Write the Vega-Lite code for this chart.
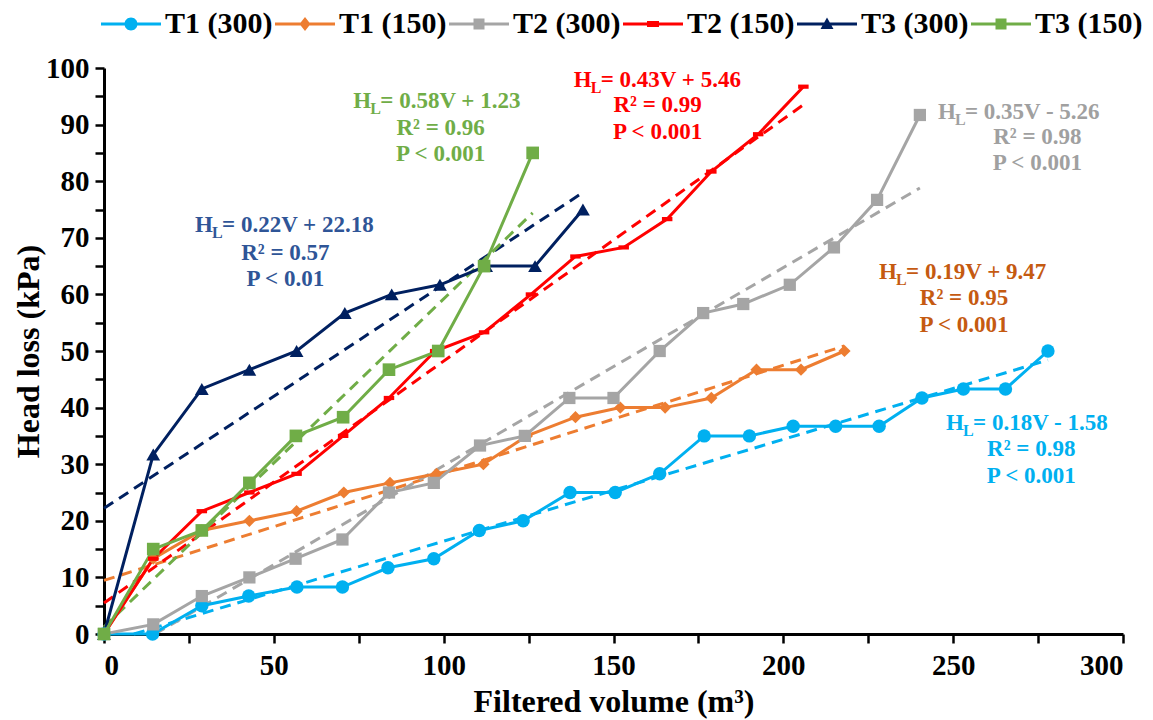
{
  "$schema": "https://vega.github.io/schema/vega-lite/v6.json",
  "width": 1019,
  "height": 566,
  "autosize": {"type": "none"},
  "padding": {"left": 104, "top": 68, "right": 30, "bottom": 86},
  "background": "white",
  "config": {
    "view": {"stroke": null},
    "font": "Liberation Serif",
    "axis": {
      "grid": false,
      "domainColor": "black",
      "domainWidth": 3,
      "tickColor": "black",
      "tickWidth": 2.5,
      "tickSize": 9,
      "labelFont": "Liberation Serif",
      "labelFontWeight": "bold",
      "labelFontSize": 29,
      "labelColor": "black",
      "titleFont": "Liberation Serif",
      "titleFontWeight": "bold",
      "titleFontSize": 32,
      "titleColor": "black"
    }
  },
  "datasets": {
    "obs": [
      {"series": "T1 (300)", "x": 0, "y": 0}, {"series": "T1 (300)", "x": 14.3, "y": 0}, {"series": "T1 (300)", "x": 28.8, "y": 5}, {"series": "T1 (300)", "x": 42.6, "y": 6.7}, {"series": "T1 (300)", "x": 56.8, "y": 8.3}, {"series": "T1 (300)", "x": 70.2, "y": 8.3}, {"series": "T1 (300)", "x": 83.6, "y": 11.7}, {"series": "T1 (300)", "x": 97.1, "y": 13.3}, {"series": "T1 (300)", "x": 110.5, "y": 18.3}, {"series": "T1 (300)", "x": 123.4, "y": 20}, {"series": "T1 (300)", "x": 137.2, "y": 25}, {"series": "T1 (300)", "x": 150.5, "y": 25}, {"series": "T1 (300)", "x": 163.6, "y": 28.3}, {"series": "T1 (300)", "x": 176.7, "y": 35}, {"series": "T1 (300)", "x": 190, "y": 35}, {"series": "T1 (300)", "x": 202.9, "y": 36.7}, {"series": "T1 (300)", "x": 215.4, "y": 36.7}, {"series": "T1 (300)", "x": 228.2, "y": 36.7}, {"series": "T1 (300)", "x": 240.8, "y": 41.7}, {"series": "T1 (300)", "x": 253, "y": 43.3}, {"series": "T1 (300)", "x": 265.4, "y": 43.3}, {"series": "T1 (300)", "x": 277.9, "y": 50},
      {"series": "T1 (150)", "x": 0, "y": 0}, {"series": "T1 (150)", "x": 14.5, "y": 13.3}, {"series": "T1 (150)", "x": 28.8, "y": 18.3}, {"series": "T1 (150)", "x": 42.8, "y": 20}, {"series": "T1 (150)", "x": 56.7, "y": 21.7}, {"series": "T1 (150)", "x": 70.6, "y": 25}, {"series": "T1 (150)", "x": 84.2, "y": 26.7}, {"series": "T1 (150)", "x": 97.9, "y": 28.3}, {"series": "T1 (150)", "x": 111.7, "y": 30}, {"series": "T1 (150)", "x": 124.5, "y": 35}, {"series": "T1 (150)", "x": 138.8, "y": 38.3}, {"series": "T1 (150)", "x": 152, "y": 40}, {"series": "T1 (150)", "x": 165.2, "y": 40}, {"series": "T1 (150)", "x": 178.8, "y": 41.7}, {"series": "T1 (150)", "x": 192.1, "y": 46.7}, {"series": "T1 (150)", "x": 205.2, "y": 46.7}, {"series": "T1 (150)", "x": 218, "y": 50},
      {"series": "T2 (300)", "x": 0, "y": 0}, {"series": "T2 (300)", "x": 14.5, "y": 1.7}, {"series": "T2 (300)", "x": 28.8, "y": 6.7}, {"series": "T2 (300)", "x": 42.8, "y": 10}, {"series": "T2 (300)", "x": 56.4, "y": 13.3}, {"series": "T2 (300)", "x": 70.2, "y": 16.7}, {"series": "T2 (300)", "x": 83.9, "y": 25}, {"series": "T2 (300)", "x": 97.1, "y": 26.7}, {"series": "T2 (300)", "x": 110.7, "y": 33.3}, {"series": "T2 (300)", "x": 123.9, "y": 35}, {"series": "T2 (300)", "x": 137, "y": 41.7}, {"series": "T2 (300)", "x": 150, "y": 41.7}, {"series": "T2 (300)", "x": 163.6, "y": 50}, {"series": "T2 (300)", "x": 176.4, "y": 56.7}, {"series": "T2 (300)", "x": 188.2, "y": 58.3}, {"series": "T2 (300)", "x": 201.9, "y": 61.7}, {"series": "T2 (300)", "x": 214.9, "y": 68.3}, {"series": "T2 (300)", "x": 227.6, "y": 76.7}, {"series": "T2 (300)", "x": 240.2, "y": 91.7},
      {"series": "T2 (150)", "x": 0, "y": 0}, {"series": "T2 (150)", "x": 14.5, "y": 13.3}, {"series": "T2 (150)", "x": 28.8, "y": 21.7}, {"series": "T2 (150)", "x": 42.8, "y": 25}, {"series": "T2 (150)", "x": 56.7, "y": 28.3}, {"series": "T2 (150)", "x": 70.4, "y": 35}, {"series": "T2 (150)", "x": 83.9, "y": 41.7}, {"series": "T2 (150)", "x": 97.5, "y": 50}, {"series": "T2 (150)", "x": 111.9, "y": 53.3}, {"series": "T2 (150)", "x": 125.7, "y": 60}, {"series": "T2 (150)", "x": 138.8, "y": 66.7}, {"series": "T2 (150)", "x": 153, "y": 68.3}, {"series": "T2 (150)", "x": 165.8, "y": 73.3}, {"series": "T2 (150)", "x": 178.8, "y": 81.7}, {"series": "T2 (150)", "x": 192.6, "y": 88.3}, {"series": "T2 (150)", "x": 205.9, "y": 96.7},
      {"series": "T3 (300)", "x": 0, "y": 0}, {"series": "T3 (300)", "x": 14.5, "y": 31.7}, {"series": "T3 (300)", "x": 28.8, "y": 43.3}, {"series": "T3 (300)", "x": 42.8, "y": 46.7}, {"series": "T3 (300)", "x": 56.7, "y": 50}, {"series": "T3 (300)", "x": 70.9, "y": 56.7}, {"series": "T3 (300)", "x": 84.7, "y": 60}, {"series": "T3 (300)", "x": 98.9, "y": 61.7}, {"series": "T3 (300)", "x": 112.5, "y": 65}, {"series": "T3 (300)", "x": 126.9, "y": 65}, {"series": "T3 (300)", "x": 141, "y": 75},
      {"series": "T3 (150)", "x": 0, "y": 0}, {"series": "T3 (150)", "x": 14.5, "y": 15}, {"series": "T3 (150)", "x": 28.8, "y": 18.3}, {"series": "T3 (150)", "x": 42.8, "y": 26.7}, {"series": "T3 (150)", "x": 56.5, "y": 35}, {"series": "T3 (150)", "x": 70.4, "y": 38.3}, {"series": "T3 (150)", "x": 83.9, "y": 46.7}, {"series": "T3 (150)", "x": 98.4, "y": 50}, {"series": "T3 (150)", "x": 111.9, "y": 65}, {"series": "T3 (150)", "x": 126.2, "y": 85}
    ],
    "trend": [
      {"series": "T1 (300)", "x": 8.8, "y": 0}, {"series": "T1 (300)", "x": 277.9, "y": 48.4},
      {"series": "T1 (150)", "x": 0, "y": 9.47}, {"series": "T1 (150)", "x": 218, "y": 50.9},
      {"series": "T2 (300)", "x": 15, "y": 0}, {"series": "T2 (300)", "x": 240.2, "y": 78.8},
      {"series": "T2 (150)", "x": 0, "y": 5.46}, {"series": "T2 (150)", "x": 205.9, "y": 93.5},
      {"series": "T3 (300)", "x": 0, "y": 22.2}, {"series": "T3 (300)", "x": 141, "y": 78},
      {"series": "T3 (150)", "x": 0, "y": 1.23}, {"series": "T3 (150)", "x": 126.2, "y": 74.4}
    ],
    "notes": [
      {"series": "T3 (150)", "part": "h", "text": "H", "x": 73.4, "y": 94.2},
      {"series": "T3 (150)", "part": "l", "text": "L", "x": 73.4, "y": 94.2},
      {"series": "T3 (150)", "part": "eq", "text": " = 0.58V + 1.23", "x": 73.4, "y": 94.2},
      {"series": "T3 (150)", "part": "c", "text": "R² = 0.96", "x": 99.1, "y": 89.4},
      {"series": "T3 (150)", "part": "c", "text": "P < 0.001", "x": 99.1, "y": 84.8},
      {"series": "T2 (150)", "part": "h", "text": "H", "x": 138.3, "y": 97.9},
      {"series": "T2 (150)", "part": "l", "text": "L", "x": 138.3, "y": 97.9},
      {"series": "T2 (150)", "part": "eq", "text": "= 0.43V + 5.46", "x": 138.3, "y": 97.9},
      {"series": "T2 (150)", "part": "c", "text": "R² = 0.99", "x": 163.0, "y": 93.5},
      {"series": "T2 (150)", "part": "c", "text": "P < 0.001", "x": 163.0, "y": 88.7},
      {"series": "T2 (300)", "part": "h", "text": "H", "x": 245.5, "y": 92.3},
      {"series": "T2 (300)", "part": "l", "text": "L", "x": 245.5, "y": 92.3},
      {"series": "T2 (300)", "part": "eq", "text": " = 0.35V - 5.26", "x": 245.5, "y": 92.3},
      {"series": "T2 (300)", "part": "c", "text": "R² = 0.98", "x": 274.8, "y": 87.8},
      {"series": "T2 (300)", "part": "c", "text": "P < 0.001", "x": 274.8, "y": 83.2},
      {"series": "T3 (300)", "part": "h", "text": "H", "x": 26.8, "y": 72.3},
      {"series": "T3 (300)", "part": "l", "text": "L", "x": 26.8, "y": 72.3},
      {"series": "T3 (300)", "part": "eq", "text": "= 0.22V + 22.18", "x": 26.8, "y": 72.3},
      {"series": "T3 (300)", "part": "c", "text": "R² = 0.57", "x": 53.4, "y": 67.4},
      {"series": "T3 (300)", "part": "c", "text": "P < 0.01", "x": 53.4, "y": 62.8},
      {"series": "T1 (150)", "part": "h", "text": "H", "x": 228.2, "y": 64.0},
      {"series": "T1 (150)", "part": "l", "text": "L", "x": 228.2, "y": 64.0},
      {"series": "T1 (150)", "part": "eq", "text": "= 0.19V + 9.47", "x": 228.2, "y": 64.0},
      {"series": "T1 (150)", "part": "c", "text": "R² = 0.95", "x": 253.2, "y": 59.3},
      {"series": "T1 (150)", "part": "c", "text": "P < 0.001", "x": 253.2, "y": 54.6},
      {"series": "T1 (300)", "part": "h", "text": "H", "x": 247.9, "y": 37.3},
      {"series": "T1 (300)", "part": "l", "text": "L", "x": 247.9, "y": 37.3},
      {"series": "T1 (300)", "part": "eq", "text": " = 0.18V - 1.58", "x": 247.9, "y": 37.3},
      {"series": "T1 (300)", "part": "c", "text": "R² = 0.98", "x": 273.0, "y": 32.7},
      {"series": "T1 (300)", "part": "c", "text": "P < 0.001", "x": 273.0, "y": 28.0}
    ]
  },
  "encoding": {
    "x": {
      "field": "x", "type": "quantitative",
      "scale": {"domain": [0, 300], "nice": false, "zero": true},
      "axis": {
        "title": "Filtered volume (m³)",
        "values": [0, 25, 50, 75, 100, 125, 150, 175, 200, 225, 250, 275, 300],
        "labelExpr": "datum.value % 50 === 0 ? datum.label : ''",
        "labelPadding": 8,
        "titlePadding": 6
      }
    },
    "y": {
      "field": "y", "type": "quantitative",
      "scale": {"domain": [0, 100], "nice": false, "zero": true},
      "axis": {
        "title": "Head loss (kPa)",
        "values": [0, 5, 10, 15, 20, 25, 30, 35, 40, 45, 50, 55, 60, 65, 70, 75, 80, 85, 90, 95, 100],
        "labelExpr": "datum.value % 10 === 0 ? datum.label : ''",
        "labelPadding": 6,
        "titlePadding": 0
      }
    }
  },
  "layer": [
    {
      "data": {"name": "trend"},
      "mark": {"type": "line", "strokeWidth": 3, "strokeDash": [11, 7]},
      "encoding": {
        "color": {
          "field": "series", "type": "nominal",
          "scale": {"domain": ["T1 (300)", "T1 (150)", "T2 (300)", "T2 (150)", "T3 (300)", "T3 (150)"], "range": ["#00B0F0", "#ED7D31", "#A5A5A5", "#FF0000", "#002060", "#70AD47"]},
          "legend": {
            "title": null,
            "orient": "top",
            "direction": "horizontal",
            "offset": 29,
            "labelFont": "Liberation Serif",
            "labelFontWeight": "bold",
            "labelFontSize": 30,
            "labelColor": "black",
            "symbolSize": 400,
            "symbolOffset": 12,
            "labelOffset": 19,
            "columnPadding": 2,
            "encode": {
              "symbols": {
                "update": {
                  "shape": {"signal": "datum.value === 'T1 (300)' ? 'M-3,-0.15H3V0.15H-3Z M-0.65,0A0.65,0.65 0 1,1 0.65,0A0.65,0.65 0 1,1 -0.65,0Z' : datum.value === 'T1 (150)' ? 'M-3,-0.15H3V0.15H-3Z M0,-0.7L0.55,0L0,0.7L-0.55,0Z' : datum.value === 'T2 (150)' ? 'M-3,-0.15H3V0.15H-3Z M-0.6,-0.3H0.6V0.3H-0.6Z' : datum.value === 'T3 (300)' ? 'M-3,-0.15H3V0.15H-3Z M0,-0.65L0.65,0.5L-0.65,0.5Z' : 'M-3,-0.15H3V0.15H-3Z M-0.55,-0.55H0.55V0.55H-0.55Z'"},
                  "fill": {"scale": "color", "field": "value"},
                  "strokeWidth": {"value": 0},
                  "opacity": {"value": 1}
                }
              }
            }
          }
        }
      }
    },
    {
      "data": {"name": "obs"},
      "mark": {"type": "line", "strokeWidth": 3},
      "encoding": {
        "color": {
          "field": "series", "type": "nominal",
          "scale": {"domain": ["T1 (300)", "T1 (150)", "T2 (300)", "T2 (150)", "T3 (300)", "T3 (150)"], "range": ["#00B0F0", "#ED7D31", "#A5A5A5", "#FF0000", "#002060", "#70AD47"]}
        }
      }
    },
    {
      "data": {"name": "obs"},
      "transform": [{"filter": "datum.series === 'T1 (300)'"}],
      "mark": {"type": "point", "shape": "circle", "filled": true, "opacity": 1, "color": "#00B0F0", "size": 180}
    },
    {
      "data": {"name": "obs"},
      "transform": [{"filter": "datum.series === 'T1 (150)'"}],
      "mark": {"type": "point", "shape": "diamond", "filled": true, "opacity": 1, "color": "#ED7D31", "size": 150}
    },
    {
      "data": {"name": "obs"},
      "transform": [{"filter": "datum.series === 'T2 (300)'"}],
      "mark": {"type": "point", "shape": "square", "filled": true, "opacity": 1, "color": "#A5A5A5", "size": 150}
    },
    {
      "data": {"name": "obs"},
      "transform": [{"filter": "datum.series === 'T2 (150)'"}],
      "mark": {"type": "point", "shape": "M-1,-0.4H1V0.4H-1Z", "filled": true, "opacity": 1, "color": "#FF0000", "size": 110}
    },
    {
      "data": {"name": "obs"},
      "transform": [{"filter": "datum.series === 'T3 (300)'"}],
      "mark": {"type": "point", "shape": "triangle-up", "filled": true, "opacity": 1, "color": "#002060", "size": 190}
    },
    {
      "data": {"name": "obs"},
      "transform": [{"filter": "datum.series === 'T3 (150)'"}],
      "mark": {"type": "point", "shape": "square", "filled": true, "opacity": 1, "color": "#70AD47", "size": 160}
    },
    {
      "data": {"name": "notes"},
      "encoding": {
        "text": {"field": "text"},
        "color": {
          "condition": [
            {"test": "datum.series === 'T1 (300)'", "value": "#00B0F0"},
            {"test": "datum.series === 'T1 (150)'", "value": "#C55A11"},
            {"test": "datum.series === 'T2 (300)'", "value": "#A0A0A0"},
            {"test": "datum.series === 'T2 (150)'", "value": "#FF0000"},
            {"test": "datum.series === 'T3 (300)'", "value": "#2F5597"}
          ],
          "value": "#70AD47"
        }
      },
      "layer": [
        {
          "transform": [{"filter": "datum.part === 'h'"}],
          "mark": {"type": "text", "align": "left", "baseline": "middle", "font": "Liberation Serif", "fontWeight": "bold", "fontSize": 23}
        },
        {
          "transform": [{"filter": "datum.part === 'l'"}],
          "mark": {"type": "text", "align": "left", "baseline": "middle", "font": "Liberation Serif", "fontWeight": "bold", "fontSize": 16, "dx": 17, "dy": 8}
        },
        {
          "transform": [{"filter": "datum.part === 'eq'"}],
          "mark": {"type": "text", "align": "left", "baseline": "middle", "font": "Liberation Serif", "fontWeight": "bold", "fontSize": 23, "dx": 27}
        },
        {
          "transform": [{"filter": "datum.part === 'c'"}],
          "mark": {"type": "text", "align": "center", "baseline": "middle", "font": "Liberation Serif", "fontWeight": "bold", "fontSize": 23}
        }
      ]
    }
  ]
}
